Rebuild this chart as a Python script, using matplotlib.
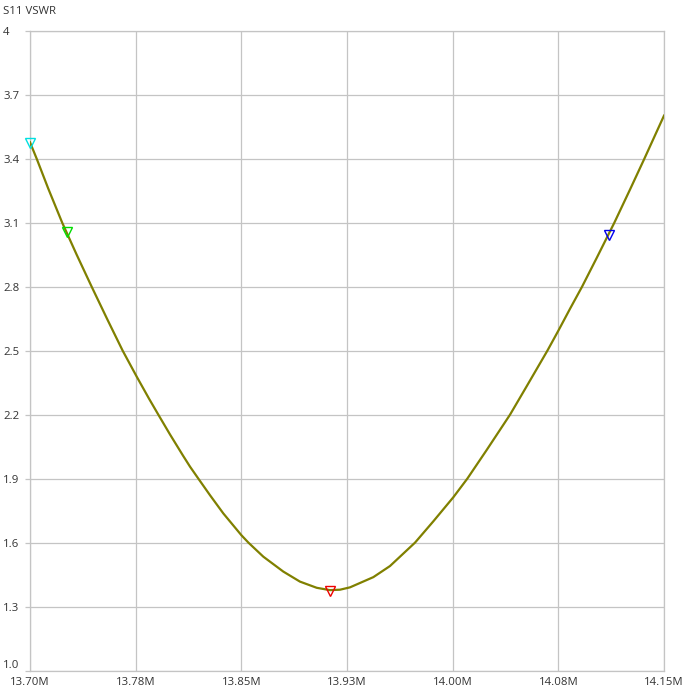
import matplotlib
matplotlib.use("Agg")
import matplotlib.pyplot as plt

# Frequency (MHz) and VSWR
freq_mhz = [13.7000, 13.7048, 13.7130, 13.7229, 13.7331, 13.7438, 13.7549, 13.7658,
            13.7757, 13.7845, 13.7911, 13.7994, 13.8088, 13.8136, 13.8195, 13.8278,
            13.8372, 13.8500, 13.8550, 13.8656, 13.8798, 13.8916, 13.9035, 13.9129,
            13.9200, 13.9271, 13.9437, 13.9555, 13.9733, 13.9863, 14.0005, 14.0104,
            14.0241, 14.0407, 14.0525, 14.0672, 14.0750, 14.0833, 14.0918, 14.1022,
            14.1147, 14.1260, 14.1360, 14.1451, 14.1500]
vswr = [3.478, 3.400, 3.260, 3.100, 2.951, 2.800, 2.647, 2.500,
        2.379, 2.275, 2.200, 2.107, 2.006, 1.956, 1.900, 1.822,
        1.737, 1.635, 1.600, 1.534, 1.464, 1.417, 1.388, 1.377,
        1.379, 1.390, 1.438, 1.490, 1.600, 1.700, 1.813, 1.900,
        2.034, 2.200, 2.333, 2.500, 2.594, 2.697, 2.800, 2.935,
        3.100, 3.258, 3.400, 3.532, 3.603]

marker_freq = [13.7000, 13.7263, 13.9130, 14.1110]
marker_vswr = [3.475, 3.055, 1.372, 3.045]
marker_colors = ["#00e0e0", "#00dd00", "#ee0000", "#0000ee"]

x_ticks = [13.700, 13.775, 13.850, 13.925, 14.000, 14.075, 14.150]
x_labels = ["13.70M", "13.78M", "13.85M", "13.93M", "14.00M", "14.08M", "14.15M"]
y_ticks = [1.0, 1.3, 1.6, 1.9, 2.2, 2.5, 2.8, 3.1, 3.4, 3.7, 4.0]
y_labels = ["1.0", "1.3", "1.6", "1.9", "2.2", "2.5", "2.8", "3.1", "3.4", "3.7", "4"]

plt.rcParams['font.family'] = ['Open Sans', 'DejaVu Sans']

W, H = 684, 691
fig = plt.figure(figsize=(W / 100, H / 100), dpi=100)
l, r, t, b = 30, 664, 31, 670.5
ax = fig.add_axes([l / W, 1 - b / H, (r - l) / W, (b - t) / H])

grid_c = "#c4c4c4"
txt_c = "#333333"
fs = 8.2
ax.set_xlim(x_ticks[0], x_ticks[-1])
ax.set_ylim(y_ticks[0], y_ticks[-1])
ax.set_xticks(x_ticks)
ax.set_xticklabels(x_labels)
ax.set_yticks(y_ticks)
ax.set_yticklabels(y_labels)
ax.grid(True, color=grid_c, linewidth=0.9)
for s in ax.spines.values():
    s.set_color(grid_c)
    s.set_linewidth(0.9)

tick_len_px = 5
ax.tick_params(axis='y', length=tick_len_px * 0.72, color=grid_c, width=0.9,
               pad=(l - 3 - tick_len_px) * 0.72, labelsize=fs, labelcolor=txt_c)
ax.tick_params(axis='x', length=0, pad=5.0, labelsize=fs, labelcolor=txt_c)
for lab in ax.get_yticklabels():
    lab.set_horizontalalignment('left')
ax.get_yticklabels()[0].set_verticalalignment('bottom')

ax.plot(freq_mhz, vswr, color="#808000", linewidth=1.6, zorder=3,
        solid_joinstyle='round')
for f, v, c in zip(marker_freq, marker_vswr, marker_colors):
    ax.plot([f], [v], marker='v', markersize=7, markerfacecolor='none',
            markeredgecolor=c, markeredgewidth=1.0, linestyle='none',
            clip_on=False, zorder=4)

fig.text(3 / W, 1 - 11 / H, "S11 VSWR", ha='left', va='center', fontsize=fs,
         color=txt_c)

fig.savefig("out.png", dpi=100, facecolor="white")
